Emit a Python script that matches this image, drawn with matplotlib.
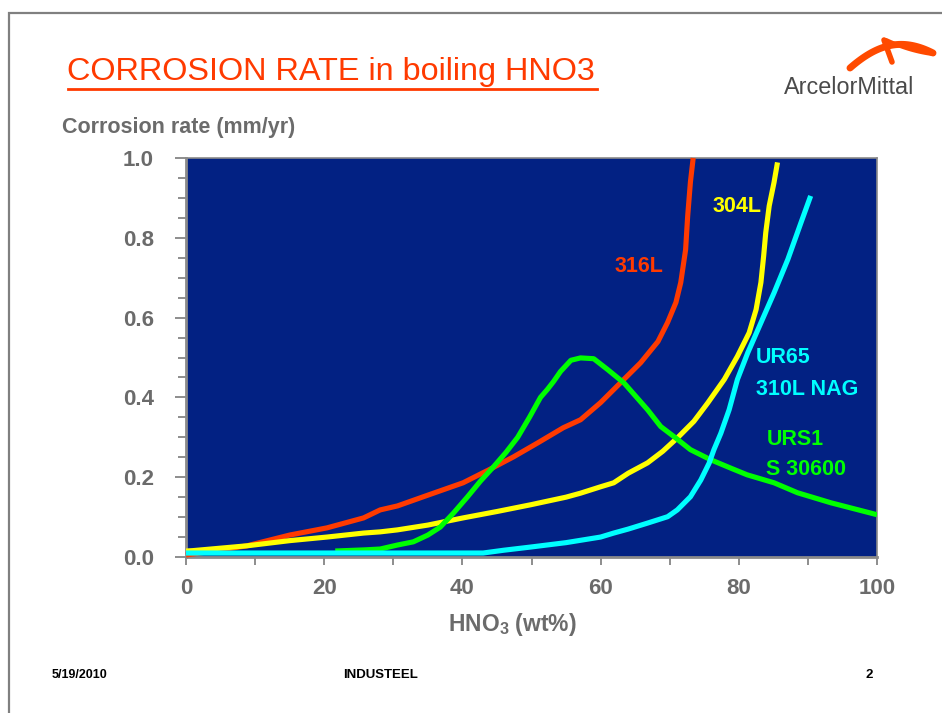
import numpy as np
import matplotlib
matplotlib.use("Agg")
import matplotlib.pyplot as plt
from matplotlib.lines import Line2D
from matplotlib.patches import Rectangle
from matplotlib.ticker import MultipleLocator

plt.rcParams['font.family'] = ['Liberation Sans', 'DejaVu Sans']
plt.rcParams['mathtext.fontset'] = 'custom'
plt.rcParams['mathtext.rm'] = 'Liberation Sans:bold'
plt.rcParams['mathtext.default'] = 'rm'

# --- data (HNO3 wt% vs corrosion rate mm/yr) ---
red_x = [0, 4, 8.8, 15, 20.4, 25.7, 28.1, 30.6, 35, 40.1, 44, 47.4, 51, 54.6, 57.1, 60,
         62.9, 65.8, 68.3, 69.7, 70.9, 71.6, 72.3, 72.6, 73.0, 73.4]
red_y = [0.005, 0.015, 0.028, 0.055, 0.073, 0.098, 0.118, 0.128, 0.155, 0.186, 0.22, 0.251,
         0.287, 0.324, 0.344, 0.387, 0.437, 0.487, 0.54, 0.588, 0.638, 0.688, 0.77, 0.854,
         0.94, 1.0]

yellow_x = [0, 1, 8.8, 15, 20.4, 25.7, 28.1, 30.6, 35, 40.1, 45, 49.9, 55, 57.1, 60, 61.9,
            64, 66.8, 69, 71.2, 73.5, 75.5, 77.9, 79.8, 81.5, 82.5, 83.2, 83.6, 83.9, 84.4,
            85.1, 85.6]
yellow_y = [0.015, 0.016, 0.028, 0.041, 0.05, 0.06, 0.063, 0.068, 0.08, 0.098, 0.114, 0.131,
            0.15, 0.16, 0.176, 0.186, 0.21, 0.236, 0.265, 0.30, 0.34, 0.386, 0.445, 0.503,
            0.562, 0.62, 0.688, 0.755, 0.813, 0.88, 0.939, 0.989]

cyan_x = [0, 10, 20, 30, 43, 46, 49.9, 55, 60, 61.9, 64, 66.8, 69.7, 71.1, 73.0, 74.5,
          75.7, 76.4, 77.4, 78.6, 79.8, 81.3, 83.2, 85.1, 87.1, 89.0, 90.4]
cyan_y = [0.01, 0.01, 0.01, 0.01, 0.01, 0.017, 0.025, 0.036, 0.05, 0.06, 0.07, 0.085, 0.101,
          0.118, 0.151, 0.193, 0.235, 0.269, 0.31, 0.369, 0.445, 0.512, 0.587, 0.662, 0.746,
          0.838, 0.905]

green_x = [21.6, 26, 28.1, 30.6, 32.9, 35, 36.8, 38.7, 40.7, 42.6, 44.5, 46.3, 48, 49.7,
           51.3, 52.3, 53.2, 54.2, 55.7, 57.1, 59.0, 61.0, 63.4, 66.8, 68.7, 70.6, 73.0,
           75.9, 78.8, 81.2, 85.1, 88.5, 93.3, 100]
green_y = [0.015, 0.018, 0.02, 0.03, 0.038, 0.055, 0.075, 0.11, 0.15, 0.19, 0.226, 0.262,
           0.30, 0.35, 0.40, 0.42, 0.44, 0.465, 0.493, 0.499, 0.497, 0.47, 0.436, 0.369,
           0.327, 0.302, 0.269, 0.244, 0.223, 0.206, 0.186, 0.161, 0.136, 0.106]

x_ticks = [0, 20, 40, 60, 80, 100]
y_ticks = [0.0, 0.2, 0.4, 0.6, 0.8, 1.0]

NAVY = '#022183'
RED = '#FF3A00'
YELLOW = '#FFFF00'
CYAN = '#00FFFF'
GREEN = '#00FF00'
GREY = '#6B6B6B'

W, H = 942, 713
fig = plt.figure(figsize=(W / 100, H / 100), dpi=100)


def fx(px):
    return px / W


def fy(py):
    return 1 - py / H


# slide border
fig.add_artist(Rectangle((fx(8.5), fy(900)), fx(1100), fy(12.5) - fy(900), transform=fig.transFigure,
                         fill=False, edgecolor='#808080', linewidth=1.6))

ax = fig.add_axes([fx(186), fy(557), fx(877) - fx(186), fy(158) - fy(557)])
ax.set_facecolor(NAVY)

lw = 3.7
ax.plot(red_x, red_y, color=RED, lw=lw, solid_capstyle='butt', solid_joinstyle='round',
        clip_on=False, zorder=3)
ax.plot(yellow_x, yellow_y, color=YELLOW, lw=lw, solid_capstyle='butt', solid_joinstyle='round', zorder=3)
ax.plot(green_x, green_y, color=GREEN, lw=lw, solid_capstyle='butt', solid_joinstyle='round', zorder=4)
ax.plot(cyan_x, cyan_y, color=CYAN, lw=lw, solid_capstyle='butt', solid_joinstyle='round', zorder=5)

ax.set_xlim(0, 100)
ax.set_ylim(0, 1.0)
ax.set_xticks(x_ticks)
ax.set_yticks(y_ticks)
ax.set_yticklabels([f'{v:.1f}' for v in y_ticks])
ax.xaxis.set_minor_locator(MultipleLocator(10))
ax.yaxis.set_minor_locator(MultipleLocator(0.05))
for s in ax.spines.values():
    s.set_color('#8A8A8A')
    s.set_linewidth(1.2)
ax.spines['left'].set_linewidth(2)
ax.spines['bottom'].set_linewidth(2)
ax.tick_params(axis='both', which='both', colors='#7A7A7A', width=1.2)
ax.tick_params(axis='y', which='major', length=8, pad=15, labelsize=16, labelcolor=GREY)
ax.tick_params(axis='y', which='minor', length=6)
ax.tick_params(axis='x', which='major', length=6, pad=9, labelsize=16, labelcolor=GREY)
ax.tick_params(axis='x', which='minor', length=6)
for lab in ax.get_xticklabels() + ax.get_yticklabels():
    lab.set_fontweight('bold')

ax.set_xlabel('HNO$_3$ (wt%)', fontsize=16.5, fontweight='bold', color=GREY)
ax.xaxis.set_label_coords((512 - 186) / (877 - 186), -0.135)
fig.text(fx(62), fy(127), 'Corrosion rate (mm/yr)', fontsize=15.5, fontweight='bold', color=GREY,
         ha='left', va='center')

# curve labels
lab_kw = dict(fontsize=15.5, fontweight='bold')
ax.text(62.0, 0.715, '316L', color=RED, **lab_kw)
ax.text(76.2, 0.865, '304L', color=YELLOW, **lab_kw)
ax.text(82.5, 0.485, 'UR65', color=CYAN, **lab_kw)
ax.text(82.5, 0.405, '310L NAG', color=CYAN, **lab_kw)
ax.text(84.0, 0.28, 'URS1', color=GREEN, **lab_kw)
ax.text(84.0, 0.205, 'S 30600', color=GREEN, **lab_kw)

# title with underline
fig.text(fx(67), fy(72), 'CORROSION RATE in boiling HNO3', fontsize=23.3, color=RED,
         ha='left', va='center')
fig.add_artist(Line2D([fx(68), fx(597)], [fy(89), fy(89)], transform=fig.transFigure,
                      color=RED, lw=2))

# logo
fig.text(fx(784), fy(88), 'ArcelorMittal', fontsize=16.8, color='#4A4A4A',
         ha='left', va='center')
t = np.linspace(0, 1, 40)
arc_x = 850 + 83 * t
arc_y = 68 - 60 * t + 45 * t ** 2
arc2_x = 886 + 47 * t
arc2_y = 40 + 22 * t - 8 * t ** 2
fig.add_artist(Line2D(fx(arc_x), fy(arc_y - 4 * np.sin(np.pi * t)), transform=fig.transFigure,
                      color='#FF4A00', lw=5, solid_capstyle='round'))
fig.add_artist(Line2D(fx(arc2_x), fy(arc2_y), transform=fig.transFigure,
                      color='#FF4A00', lw=3, solid_capstyle='round'))
fig.add_artist(Line2D([fx(884), fx(892)], [fy(40), fy(62)], transform=fig.transFigure,
                      color='#FF4A00', lw=4, solid_capstyle='round'))

# footer
fig.text(fx(52), fy(675), '5/19/2010', fontsize=9, fontweight='bold', ha='left', va='center')
fig.text(fx(343), fy(675), 'INDUSTEEL', fontsize=9.5, fontweight='bold', ha='left', va='center')
fig.text(fx(866), fy(675), '2', fontsize=9.5, fontweight='bold', ha='left', va='center')

fig.savefig('out.png', dpi=100)
